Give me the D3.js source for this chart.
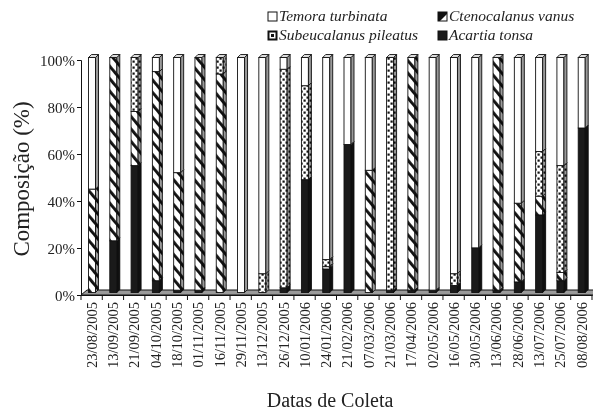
<!DOCTYPE html>
<html>
<head>
<meta charset="utf-8">
<script src="https://cdn.jsdelivr.net/npm/d3@7"></script>
<style>
  body { margin: 0; background: #fff; }
  text { font-family: "Liberation Serif", "Times New Roman", serif; fill: #222; }
</style>
</head>
<body>
<script>
const dates = ["23/08/2005","13/09/2005","21/09/2005","04/10/2005","18/10/2005","01/11/2005",
  "16/11/2005","29/11/2005","13/12/2005","26/12/2005","10/01/2006","24/01/2006","21/02/2006",
  "07/03/2006","21/03/2006","17/04/2006","02/05/2006","16/05/2006","30/05/2006","13/06/2006",
  "28/06/2006","13/07/2006","25/07/2006","08/08/2006"];

// % of each species per sample (stacked bottom to top in this order)
const acartia      = [0, 22, 54, 5, 1, 1, 0, 0, 0, 2, 48, 10, 63, 0, 1, 1, 1, 3, 19, 1, 4.5, 33, 5, 70];
const ctenocalanus = [44, 78, 23, 89, 50, 99, 93, 0, 0, 0, 0, 1, 0, 52, 0, 99, 0, 0, 0, 99, 33.5, 8, 3.5, 0];
const subeucalanus = [0, 0, 23, 0, 0, 0, 7, 0, 8, 93, 40, 3, 0, 0, 99, 0, 0, 5, 0, 0, 0, 19, 45.5, 0];
const temora       = [56, 0, 0, 6, 49, 0, 0, 100, 92, 5, 12, 86, 37, 48, 0, 0, 99, 92, 81, 0, 62, 40, 46, 30];

const speciesKeys = ["acartia", "ctenocalanus", "subeucalanus", "temora"];
const yTicks = [0, 20, 40, 60, 80, 100];

const width = 593, height = 415;
const depthX = 6, depthY = 5;     // floor depth
const barW = 7, sideW = 3;        // bar front width / side depth

let svg = d3.select("body").append("svg")
  .attr("width", width)
  .attr("height", height);

// patterns
let defs = svg.append("defs");
let hatch = defs.append("pattern")
  .attr("id", "hatch")
  .attr("patternUnits", "userSpaceOnUse")
  .attr("width", 8).attr("height", 10)
  .attr("patternTransform", "rotate(-40)");
hatch.append("rect").attr("width", 8).attr("height", 10).attr("fill", "#fff");
hatch.append("rect").attr("width", 2.9).attr("height", 10).attr("fill", "#111");

let dots = defs.append("pattern")
  .attr("id", "dots")
  .attr("patternUnits", "userSpaceOnUse")
  .attr("width", 6).attr("height", 6);
dots.append("rect").attr("width", 6).attr("height", 6).attr("fill", "#fff");
[[0.5, 0.5], [3.5, 3.5]].forEach(function(p) {
  dots.append("rect").attr("x", p[0]).attr("y", p[1]).attr("width", 2.2).attr("height", 2.2).attr("fill", "#111");
});

const fills = {
  acartia: "#1a1a1a",
  ctenocalanus: "url(#hatch)",
  subeucalanus: "url(#dots)",
  temora: "#fff"
};

let x = d3.scaleBand().domain(dates).range([81, 592]);
let y = d3.scaleLinear().domain([0, 100]).range([295, 60]);

// floor
let x0 = x.range()[0], x1 = x.range()[1];
svg.append("path")
  .attr("d", "M" + x0 + ",295 L" + (x0 + depthX) + "," + (295 - depthY) + " L" + (x1 + depthX + 10) + "," + (295 - depthY) +
    " L" + (x1 + depthX + 10) + ",295 Z")
  .attr("fill", "#9a9a9a")
  .attr("stroke", "#111")
  .attr("stroke-width", 1);

// y axis
let yAxis = d3.axisLeft(y)
  .tickValues(yTicks)
  .tickSize(4)
  .tickFormat(function(d) { return d + "%"; });
let gy = svg.append("g").attr("transform", "translate(" + x0 + ",0)").call(yAxis);
gy.select(".domain").attr("stroke", "#111");
gy.selectAll(".tick line").attr("stroke", "#111");
gy.selectAll(".tick text")
  .style("font-size", "15px")
  .attr("x", -6)
  .attr("dy", "0.35em");

// x axis
let xAxis = d3.axisBottom(x).tickSize(0).tickPadding(0);
let gx = svg.append("g").attr("transform", "translate(0,295)").call(xAxis);
gx.select(".domain").attr("stroke", "#111");
gx.selectAll(".tick text")
  .style("font-size", "14.5px")
  .attr("text-anchor", "end")
  .attr("transform", "rotate(-90)")
  .attr("x", -7)
  .attr("y", 0)
  .attr("dy", "0.36em");
gx.selectAll(".sep")
  .data(dates.concat(["_end"]))
  .enter()
  .append("line")
  .attr("x1", function(d, i) { return x0 + i * x.bandwidth(); })
  .attr("x2", function(d, i) { return x0 + i * x.bandwidth(); })
  .attr("y1", 0)
  .attr("y2", 5)
  .attr("stroke", "#111");

// stacked 3D bars
let table = dates.map(function(d, i) {
  return { date: d, acartia: acartia[i], ctenocalanus: ctenocalanus[i], subeucalanus: subeucalanus[i], temora: temora[i] };
});
let series = d3.stack().keys(speciesKeys)(table);

const shiftX = depthX / 2 - 0.5, shiftY = -depthY / 2;

let bars = svg.append("g").attr("class", "bars");
series.forEach(function(s) {
  let g = bars.append("g");
  let segs = s.filter(function(d) { return d[1] - d[0] > 0; });
  // front face
  g.selectAll("rect.front")
    .data(segs)
    .enter()
    .append("rect")
    .attr("class", "front")
    .attr("x", function(d) { return x(d.data.date) + 5 + shiftX; })
    .attr("y", function(d) { return y(d[1]) + shiftY; })
    .attr("width", barW)
    .attr("height", function(d) { return y(d[0]) - y(d[1]); })
    .attr("fill", fills[s.key])
    .attr("stroke", "#111")
    .attr("stroke-width", 0.9);
  // side face
  let side = function(d) {
    let sx = x(d.data.date) + 5 + shiftX + barW;
    let t = y(d[1]) + shiftY, b = y(d[0]) + shiftY;
    return "M" + sx + "," + t + " L" + (sx + sideW) + "," + (t - sideW) + " L" + (sx + sideW) + "," + (b - sideW) + " L" + sx + "," + b + " Z";
  };
  g.selectAll("path.side")
    .data(segs)
    .enter()
    .append("path")
    .attr("class", "side")
    .attr("d", side)
    .attr("fill", fills[s.key])
    .attr("stroke", "#111")
    .attr("stroke-width", 0.9);
  g.selectAll("path.shade")
    .data(segs)
    .enter()
    .append("path")
    .attr("class", "shade")
    .attr("d", side)
    .attr("fill", "#9a9a9a")
    .style("mix-blend-mode", "multiply");
});

// top faces (top segment of every bar reaches 100%)
bars.selectAll("path.top")
  .data(table)
  .enter()
  .append("path")
  .attr("class", "top")
  .attr("d", function(d) {
    let sx = x(d.date) + 5 + shiftX, t = y(100) + shiftY;
    return "M" + sx + "," + t + " L" + (sx + sideW) + "," + (t - sideW) + " L" + (sx + sideW + barW) + "," + (t - sideW) +
      " L" + (sx + barW) + "," + t + " Z";
  })
  .attr("fill", function(d) {
    let topKey = speciesKeys.filter(function(k) { return d[k] > 0; }).pop();
    return topKey === "acartia" ? "#333" : "#ddd";
  })
  .attr("stroke", "#111")
  .attr("stroke-width", 0.9);

// axis titles
svg.append("text")
  .attr("transform", "translate(29,179) rotate(-90)")
  .attr("text-anchor", "middle")
  .style("font-size", "23px")
  .text("Composição (%)");

svg.append("text")
  .attr("x", 330)
  .attr("y", 407)
  .attr("text-anchor", "middle")
  .style("font-size", "20px")
  .text("Datas de Coleta");

// legend
const legendItems = [
  { key: "temora", label: "Temora turbinata", lx: 268, ly: 12 },
  { key: "ctenocalanus", label: "Ctenocalanus vanus", lx: 438, ly: 12 },
  { key: "subeucalanus", label: "Subeucalanus pileatus", lx: 268, ly: 31 },
  { key: "acartia", label: "Acartia tonsa", lx: 438, ly: 31 }
];
let legend = svg.append("g").attr("class", "legend");
legendItems.forEach(function(item) {
  let g = legend.append("g").attr("transform", "translate(" + item.lx + "," + item.ly + ")");
  if (item.key === "temora") {
    g.append("rect").attr("width", 9).attr("height", 9).attr("fill", "#fff").attr("stroke", "#111");
  } else if (item.key === "ctenocalanus") {
    g.append("rect").attr("width", 9).attr("height", 9).attr("fill", "#fff").attr("stroke", "#111");
    g.append("path").attr("d", "M0,0 L9,0 L9,2 L2,9 L0,9 Z").attr("fill", "#111");
  } else if (item.key === "subeucalanus") {
    g.append("rect").attr("x", 0.5).attr("y", 0.5).attr("width", 8).attr("height", 8)
      .attr("fill", "#fff").attr("stroke", "#111").attr("stroke-width", 2);
    g.append("rect").attr("x", 3).attr("y", 3).attr("width", 3).attr("height", 3).attr("fill", "#111");
  } else {
    g.append("rect").attr("width", 9).attr("height", 9).attr("fill", "#1a1a1a").attr("stroke", "#111");
  }
  g.append("text")
    .attr("x", 11)
    .attr("y", 9)
    .style("font-size", "15.5px")
    .style("font-style", "italic")
    .text(item.label);
});
</script>
</body>
</html>
